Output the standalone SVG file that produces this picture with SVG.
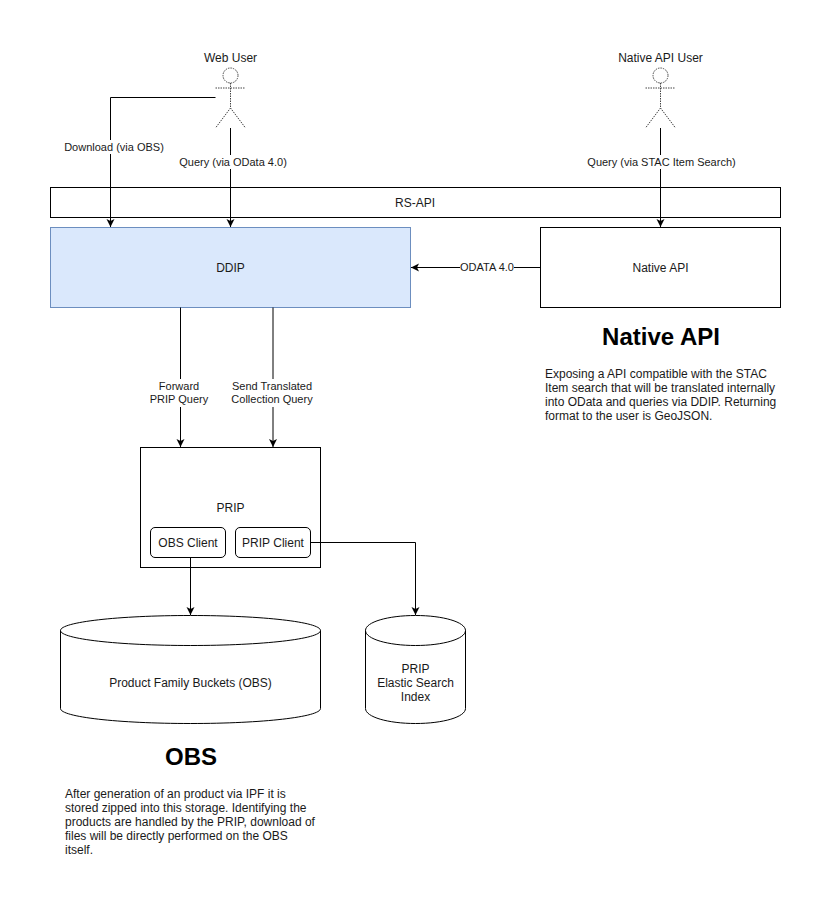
<svg xmlns="http://www.w3.org/2000/svg" width="832" height="918" viewBox="0 0 832 918">
<style>
text{font-family:"Liberation Sans",Arial,sans-serif;font-size:12px;fill:#1a1a1a}
.m{text-anchor:middle}
.s{font-size:11px}
.b{fill:#fff;stroke:#000;stroke-width:1}
.c{fill:none;stroke:#000;stroke-width:1}
.a{fill:none;stroke:#444;stroke-width:1;stroke-dasharray:1.5 1}
.h{font-size:24px;font-weight:bold;fill:#000}
.l{fill:#fff}
</style>
<defs>
<marker id="arr" markerUnits="userSpaceOnUse" markerWidth="10" markerHeight="10" refX="8" refY="4.5" orient="auto"><path d="M0 0.500L8 4.500L0 8.500L2 4.500Z" fill="#000"/></marker>
</defs>
<rect width="832" height="918" fill="#fff"/>
<g id="rs-api"><rect class="b" x="50.500" y="187.500" width="730" height="30"/><text class="m" x="415" y="207">RS-API</text></g>
<g id="ddip"><rect x="50.500" y="227.500" width="360" height="80" fill="#dae8fc" stroke="#6c8ebf"/><text class="m" x="230.500" y="272">DDIP</text></g>
<g id="native-api"><rect class="b" x="540.500" y="227.500" width="240" height="80"/><text class="m" x="660.500" y="272">Native API</text></g>
<g id="web-user"><g class="a"><circle cx="230.500" cy="75.500" r="7.500"/><path d="M230.500 83V108M215.500 88H245.500M230.500 108L215.500 128M230.500 108L245.500 128"/></g><text class="m" x="230.500" y="62">Web User</text></g>
<g id="native-user"><g class="a"><circle cx="660.500" cy="75.500" r="7.500"/><path d="M660.500 83V108M645.500 88H675.500M660.500 108L645.500 128M660.500 108L675.500 128"/></g><text class="m" x="660.500" y="62">Native API User</text></g>
<g id="prip"><rect class="b" x="140.500" y="447.500" width="180" height="120"/><text class="m" x="230.500" y="512">PRIP</text></g>
<g id="obs-client"><rect class="b" x="150.500" y="527.500" width="75" height="30" rx="4.500"/><text class="m" x="188" y="547">OBS Client</text></g>
<g id="prip-client"><rect class="b" x="235.500" y="527.500" width="75" height="30" rx="4.500"/><text class="m" x="273" y="547">PRIP Client</text></g>
<g id="obs-bucket"><path class="b" d="M60.500 630.500C60.500 622 118.500 615.500 190.500 615.500C262.500 615.500 320.500 622 320.500 630.500V708.500C320.500 717 262.500 723.500 190.500 723.500C118.500 723.500 60.500 717 60.500 708.500Z"/><path class="c" d="M60.500 630.500C60.500 639 118.500 645.500 190.500 645.500C262.500 645.500 320.500 639 320.500 630.500"/><text class="m" x="190.500" y="687">Product Family Buckets (OBS)</text></g>
<g id="prip-index"><path class="b" d="M365.500 630.500C365.500 622 388 615.500 415.500 615.500C443 615.500 465.500 622 465.500 630.500V708.500C465.500 717 443 723.500 415.500 723.500C388 723.500 365.500 717 365.500 708.500Z"/><path class="c" d="M365.500 630.500C365.500 639 388 645.500 415.500 645.500C443 645.500 465.500 639 465.500 630.500"/><text class="m" x="415.500" y="673">PRIP</text><text class="m" x="415.500" y="687">Elastic Search</text><text class="m" x="415.500" y="701">Index</text></g>
<g id="connectors">
<path class="c" marker-end="url(#arr)" d="M215.500 97.500H110.500V227"/>
<path class="c" marker-end="url(#arr)" d="M230.500 128V227"/>
<path class="c" marker-end="url(#arr)" d="M660.500 128V227"/>
<path class="c" marker-end="url(#arr)" d="M540 267.500H411"/>
<path class="c" marker-end="url(#arr)" d="M180.500 307.500V447"/>
<path class="c" marker-end="url(#arr)" d="M273 307.500V447"/>
<path class="c" marker-end="url(#arr)" d="M190.500 557.500V615"/>
<path class="c" marker-end="url(#arr)" d="M310.500 542.500H415.500V615"/>
<rect class="l" x="64" y="140" width="100" height="14"/><text class="m s" x="114" y="151">Download (via OBS)</text>
<rect class="l" x="179" y="155" width="108" height="14"/><text class="m s" x="233" y="166">Query (via OData 4.0)</text>
<rect class="l" x="587" y="155" width="149" height="14"/><text class="m s" x="661.500" y="166">Query (via STAC Item Search)</text>
<rect class="l" x="460" y="260" width="54" height="14"/><text class="m s" x="487" y="271">ODATA 4.0</text>
<rect class="l" x="157" y="379" width="44" height="28"/><text class="m s" x="179" y="390">Forward</text><text class="m s" x="179" y="403">PRIP Query</text>
<rect class="l" x="231" y="379" width="82" height="28"/><text class="m s" x="272" y="390">Send Translated</text><text class="m s" x="272" y="403">Collection Query</text>
</g>
<g id="native-text"><text class="h m" x="661" y="345">Native API</text><text x="545" y="378">Exposing a API compatible with the STAC</text><text x="545" y="392">Item search that will be translated internally</text><text x="545" y="406">into OData and queries via DDIP. Returning</text><text x="545" y="420">format to the user is GeoJSON.</text></g>
<g id="obs-text"><text class="h m" x="191" y="765">OBS</text><text x="65" y="798">After generation of an product via IPF it is</text><text x="65" y="812">stored zipped into this storage. Identifying the</text><text x="65" y="826">products are handled by the PRIP, download of</text><text x="65" y="840">files will be directly performed on the OBS</text><text x="65" y="854">itself.</text></g>
</svg>
